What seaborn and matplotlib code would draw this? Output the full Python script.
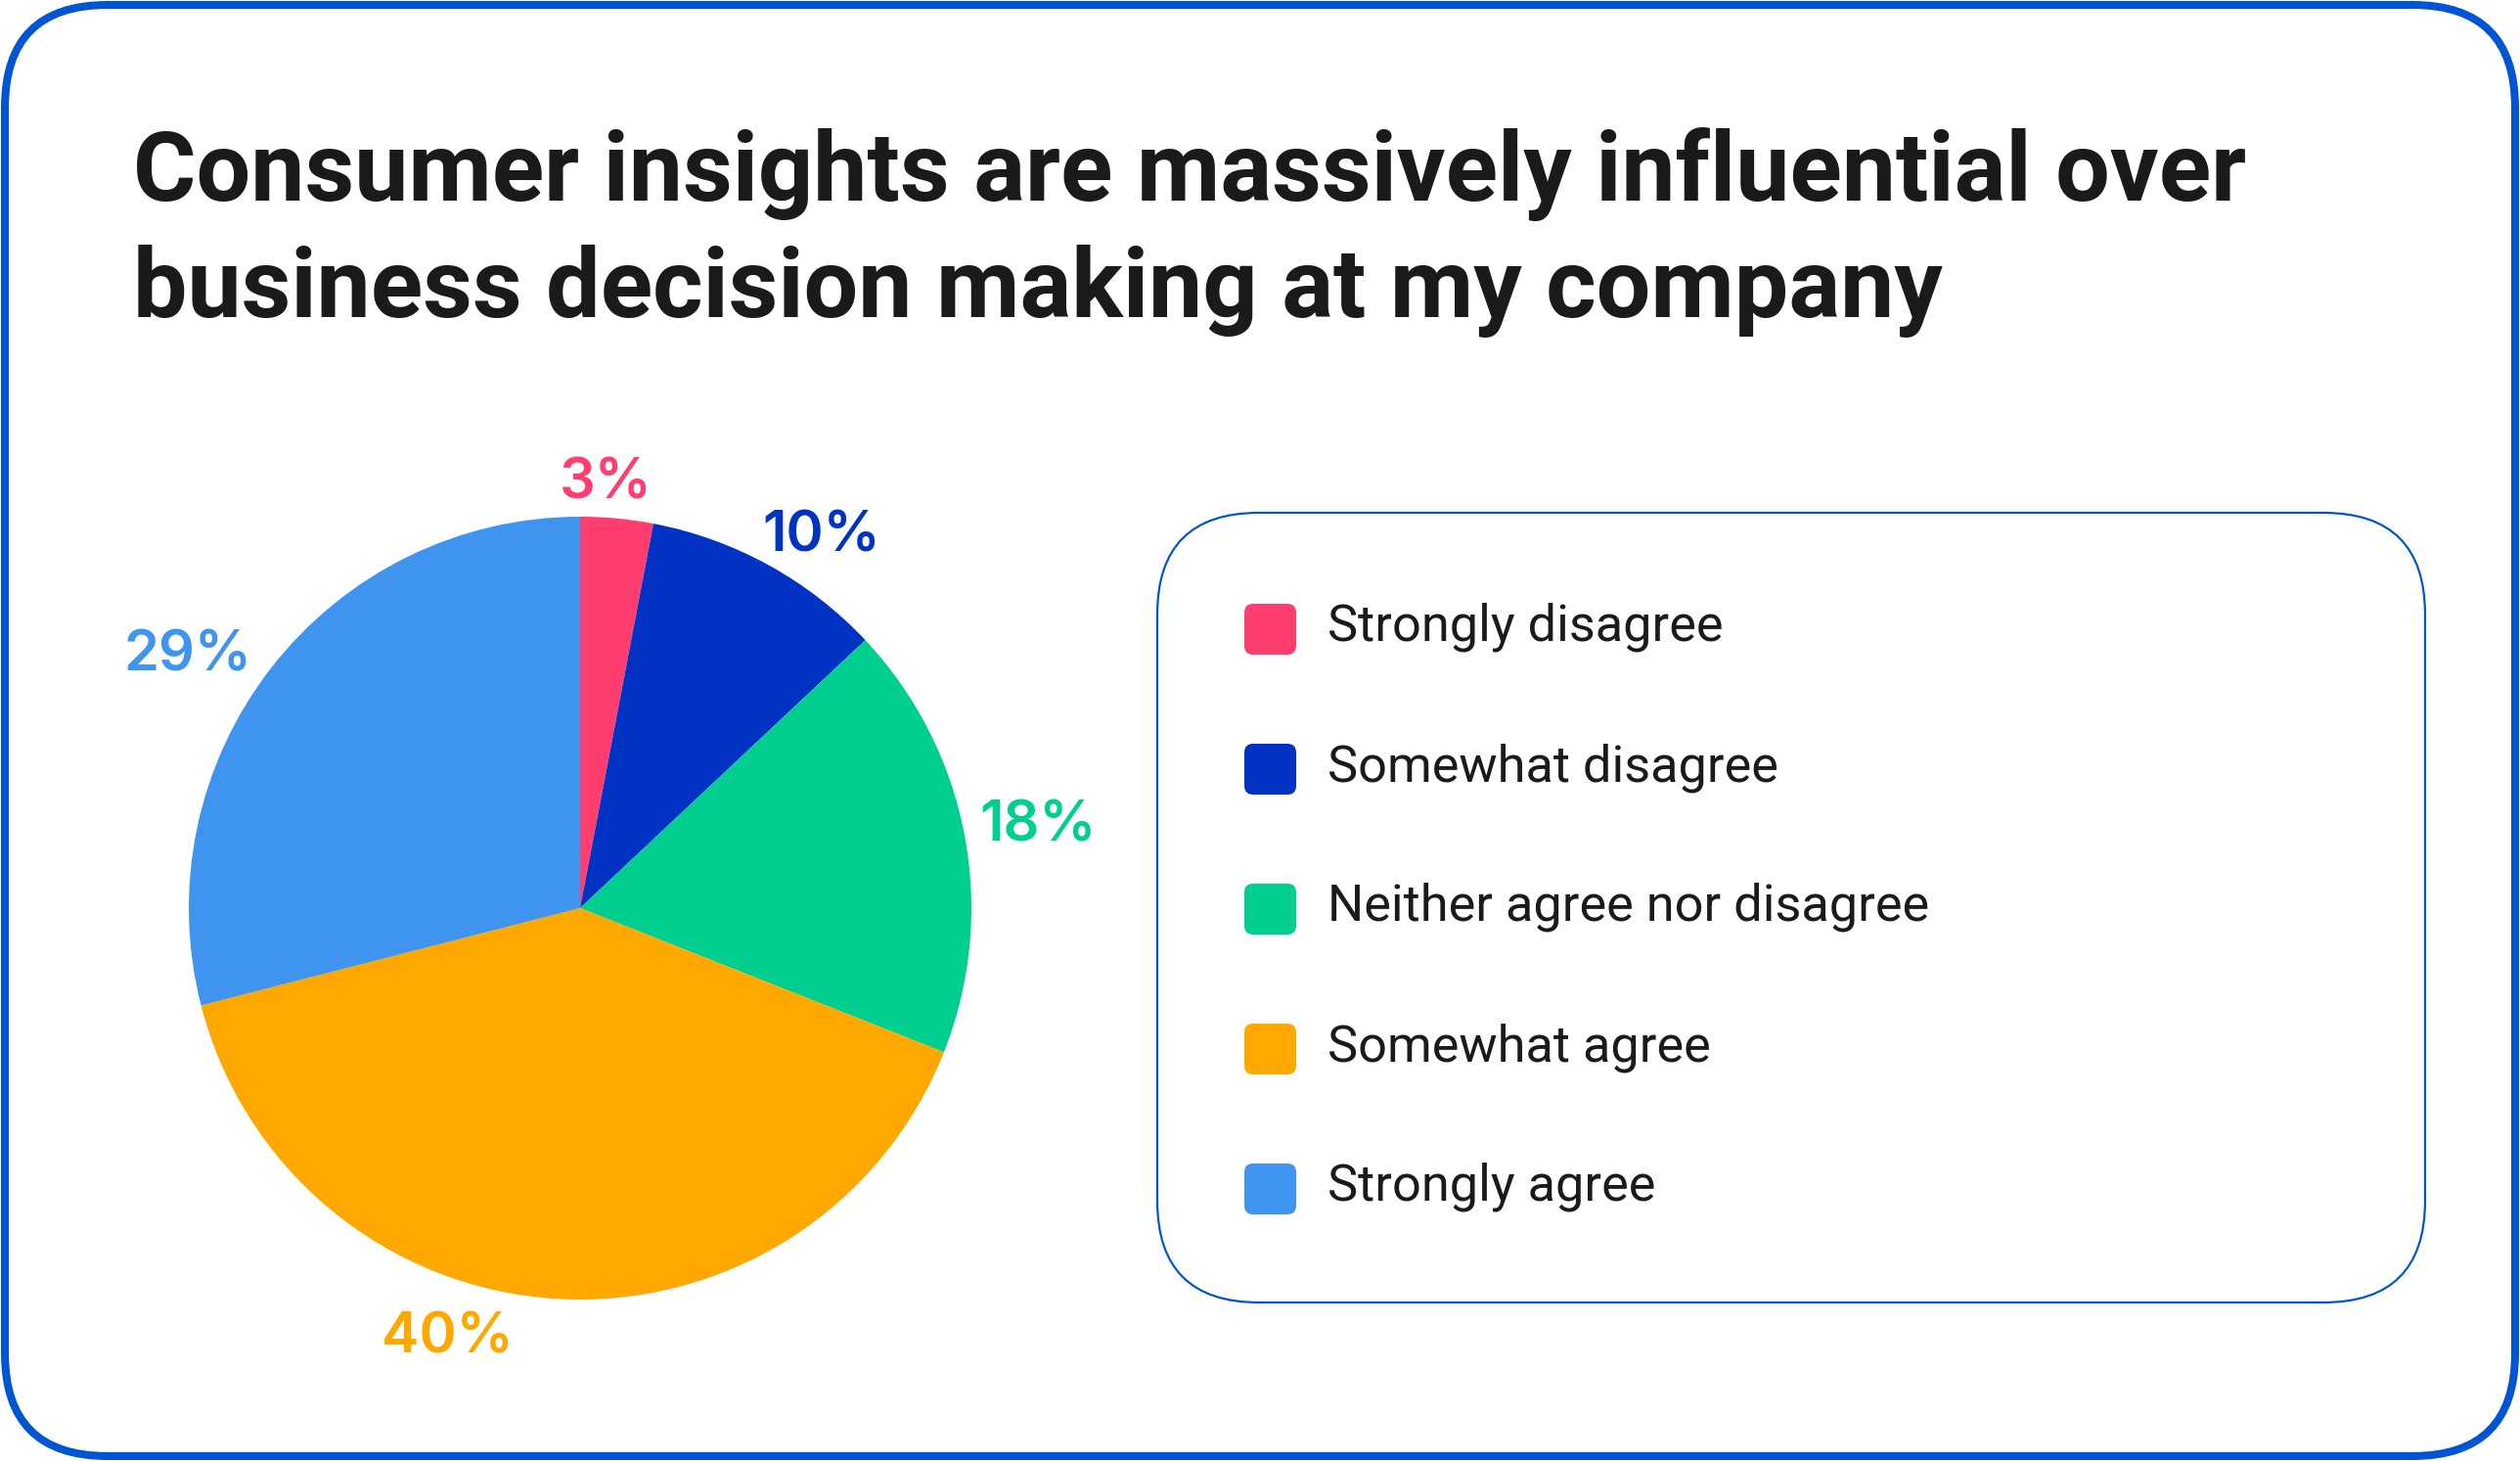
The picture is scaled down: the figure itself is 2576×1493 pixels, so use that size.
import matplotlib
matplotlib.use("Agg")
import matplotlib.pyplot as plt
import seaborn as sns
import numpy as np
from matplotlib.patches import FancyBboxPatch

# ---------------- data ----------------
categories = ["Strongly disagree", "Somewhat disagree", "Neither agree nor disagree",
              "Somewhat agree", "Strongly agree"]
values = [3, 10, 18, 40, 29]
value_labels = ["3%", "10%", "18%", "40%", "29%"]
colors = ["#FF3D6E", "#0033C4", "#00CF90", "#FFA800", "#3F94F0"]
title_lines = ["Consumer insights are massively influential over",
               "business decision making at my company"]

# ---------------- styling ----------------
label_dist = [1.10, 1.145, 1.19, 1.135, 1.20]      # radial distance of value labels (x radius)
label_nudge = [-2.0, 3.8, 0.0, 13.8, -4.5]          # clockwise nudge of value labels (deg)
BORDER = "#0055D4"
INK = "#1A1A1A"

sns.set_theme(style="white")
plt.rcParams["font.family"] = ["Inter", "DejaVu Sans"]
NARROW = ["Roboto", "Inter", "DejaVu Sans"]

W, H = 2576, 1493
fig = plt.figure(figsize=(W / 100, H / 100), dpi=100)
fig.patch.set_facecolor("white")

# background axes in pixel coordinates
bg = fig.add_axes([0, 0, 1, 1])
bg.set_xlim(0, W)
bg.set_ylim(H, 0)
bg.axis("off")

bg.add_patch(FancyBboxPatch((5, 5), W - 10, H - 10,
                            boxstyle="round,pad=0,rounding_size=105",
                            fc="white", ec=BORDER, lw=8 * 0.72))

# title
for i, line in enumerate(title_lines):
    bg.text(136, 205 + i * 119, line, fontsize=71, fontweight="bold",
            family=NARROW, color=INK, ha="left", va="baseline")

# legend box
lx0, ly0, lx1, ly1 = 1183, 524, 2479, 1331
bg.add_patch(FancyBboxPatch((lx0, ly0), lx1 - lx0, ly1 - ly0,
                            boxstyle="round,pad=0,rounding_size=104",
                            fc="none", ec=BORDER, lw=2.2 * 0.72))
for i, (cat, col) in enumerate(zip(categories, colors)):
    cy = 643 + i * 143
    bg.add_patch(FancyBboxPatch((1272, cy - 26), 53, 52,
                                boxstyle="round,pad=0,rounding_size=9",
                                fc=col, ec="none"))
    bg.text(1357, cy + 12, cat, fontsize=37.6, color=INK, family=NARROW,
            ha="left", va="baseline")

# pie
cx, cyp, R = 593, 928, 400
ax = fig.add_axes([(cx - R) / W, 1 - (cyp + R) / H, 2 * R / W, 2 * R / H])
wedges, _ = ax.pie(values, colors=colors, startangle=90, counterclock=False,
                   radius=1, wedgeprops=dict(linewidth=0, edgecolor="none"))
ax.set_xlim(-1, 1)
ax.set_ylim(-1, 1)
ax.set_aspect("equal")
ax.axis("off")

for w, lab, col, d, nud in zip(wedges, value_labels, colors, label_dist, label_nudge):
    mid = np.deg2rad((w.theta1 + w.theta2) / 2 - nud)
    ax.text(d * np.cos(mid), d * np.sin(mid), lab, color=col, fontsize=41.6,
            fontweight="semibold", ha="center", va="center_baseline", clip_on=False)

fig.savefig("out.png", dpi=100, facecolor="white")
